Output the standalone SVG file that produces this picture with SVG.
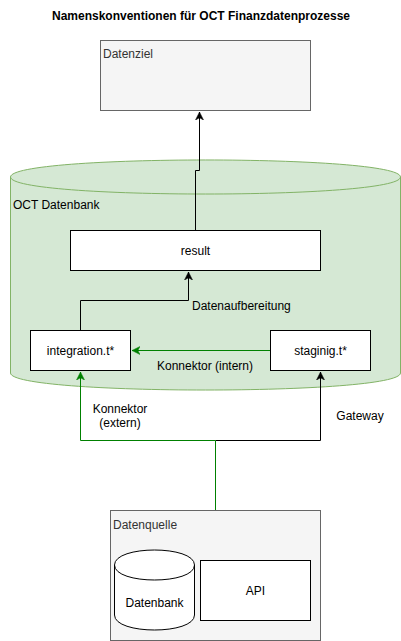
<svg xmlns="http://www.w3.org/2000/svg" width="401" height="641" viewBox="0 0 401 641">
<defs>
<style>
text{font-family:"Liberation Sans",Arial,sans-serif;font-size:12px;fill:#000}
.c{text-anchor:middle}
.box{fill:#fff;stroke:#000;stroke-width:1}
.grey{fill:#f5f5f5;stroke:#666;stroke-width:1}
.blk{fill:none;stroke:#000;stroke-width:1}
.grn{fill:none;stroke:#008000;stroke-width:1}
</style>
<marker id="ab" markerWidth="9" markerHeight="9" refX="8" refY="4.5" orient="auto" markerUnits="userSpaceOnUse"><path d="M0,0.5 L8,4.5 L0,8.5 L2.2,4.5 Z" fill="#000" stroke="#000" stroke-width="0.5"/></marker>
<marker id="ag" markerWidth="9" markerHeight="9" refX="8" refY="4.5" orient="auto" markerUnits="userSpaceOnUse"><path d="M0,0.5 L8,4.5 L0,8.5 L2.2,4.5 Z" fill="#008000" stroke="#008000" stroke-width="0.5"/></marker>
</defs>
<rect width="401" height="641" fill="#fff"/>
<text x="201" y="20" class="c" style="font-weight:bold">Namenskonventionen für OCT Finanzdatenprozesse</text>

<g id="datenziel">
<rect x="100.5" y="40.5" width="210" height="70" class="grey"/>
<text x="103" y="58" style="fill:#333">Datenziel</text>
</g>

<g id="oct-datenbank">
<path d="M10.5,177 C10.5,154.3 400.5,154.3 400.5,177 L400.5,373 C400.5,395.7 10.5,395.7 10.5,373 Z" fill="#d5e8d4" stroke="#82b366"/>
<path d="M10.5,177 C10.5,199.7 400.5,199.7 400.5,177" fill="none" stroke="#82b366"/>
<text x="13" y="209">OCT Datenbank</text>
</g>

<g id="result">
<rect x="70.5" y="230.5" width="250" height="40" class="box"/>
<text x="195.5" y="255" class="c">result</text>
</g>

<g id="integration">
<rect x="30.5" y="330.5" width="100" height="40" class="box"/>
<text x="80.5" y="355" class="c">integration.t*</text>
</g>

<g id="staging">
<rect x="270.5" y="330.5" width="100" height="40" class="box"/>
<text x="320.5" y="355" class="c">staginig.t*</text>
</g>

<g id="datenquelle">
<rect x="110.5" y="510.5" width="210" height="130" class="grey"/>
<text x="113" y="529" style="fill:#333">Datenquelle</text>
</g>

<g id="datenbank">
<path d="M114.5,565 C114.5,545 194.5,545 194.5,565 L194.5,615 C194.5,635 114.5,635 114.5,615 Z" fill="#fff" stroke="#000"/>
<path d="M114.5,565 C114.5,585 194.5,585 194.5,565" fill="none" stroke="#000"/>
<text x="154.5" y="607" class="c">Datenbank</text>
</g>

<g id="api">
<rect x="200.5" y="560.5" width="110" height="60" class="box"/>
<text x="255.5" y="595" class="c">API</text>
</g>

<g id="connectors">
<path d="M195.5,230 L195.5,170.5 L199.5,170.5 L199.5,112" class="blk" marker-end="url(#ab)"/>
<path d="M80.5,330 L80.5,300.5 L188.5,300.5 L188.5,272" class="blk" marker-end="url(#ab)"/>
<text x="192" y="310">Datenaufbereitung</text>
<path d="M270,350.5 L132,350.5" class="grn" marker-end="url(#ag)"/>
<text x="205" y="370" class="c">Konnektor (intern)</text>
<path d="M215.5,440.5 L320.5,440.5 L320.5,372" class="blk" marker-end="url(#ab)"/>
<path d="M215.5,510 L215.5,440.5 L80.5,440.5 L80.5,372" class="grn" marker-end="url(#ag)"/>
<text x="120" y="413" class="c">Konnektor</text>
<text x="120" y="427" class="c">(extern)</text>
<text x="360" y="420" class="c">Gateway</text>
</g>
</svg>
